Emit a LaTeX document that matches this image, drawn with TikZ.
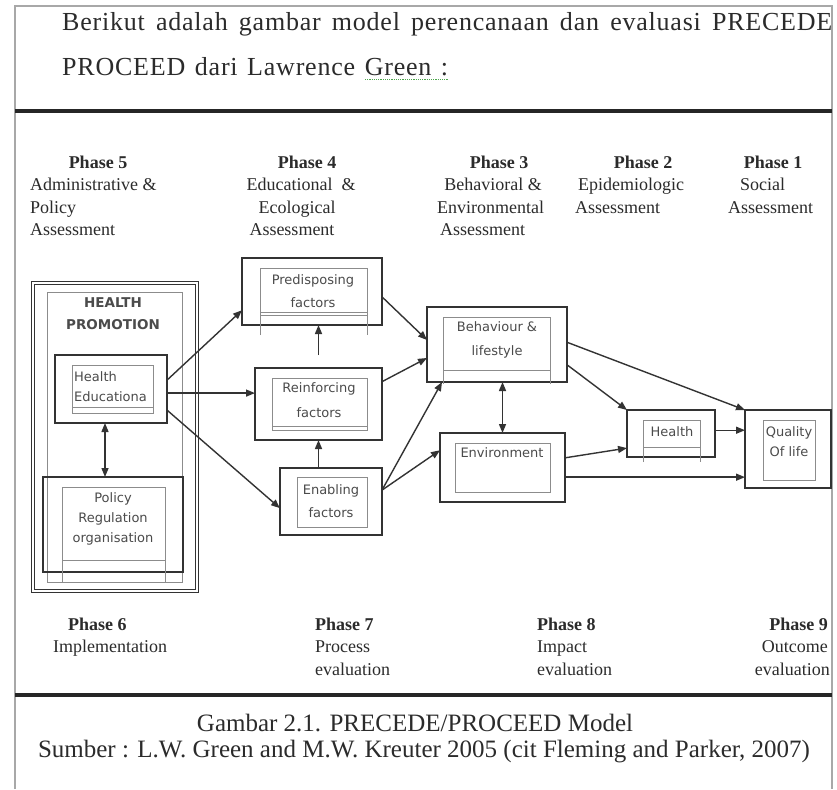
\documentclass[tikz,border=0pt]{standalone}
\usepackage{fontspec}
\setmainfont{Liberation Serif}
\newfontfamily\headfont[LetterSpace=3]{Liberation Serif}
\newfontfamily\boxfont{DejaVu Sans}
\usetikzlibrary{arrows.meta,calc}
\definecolor{ink}{HTML}{2B2B2B}
\definecolor{edge}{HTML}{333333}
\definecolor{faint}{HTML}{8C8C8C}
\definecolor{framec}{HTML}{A8A8A8}
\definecolor{spell}{HTML}{4CA64C}
\begin{document}
\begin{tikzpicture}[x=1pt,y=-1pt,
  outerbox/.style={draw=edge, line width=1.9pt, inner sep=0, outer sep=0, anchor=north west},
  innerline/.style={draw=faint, line width=0.9pt},
  boxtext/.style={font=\boxfont\fontsize{13}{23}\selectfont, text=ink!85, align=center, inner sep=0},
  serif/.style={font=\fontsize{18}{22}\selectfont, text=ink, inner sep=0},
  phase/.style={font=\fontsize{18}{22}\selectfont\bfseries, text=ink, inner sep=0},
  caption/.style={font=\fontsize{25}{28}\selectfont, text=ink, inner sep=0},
  head/.style={font=\headfont\fontsize{26}{30}\selectfont, text=ink, inner sep=0, anchor=base west},
  flow/.style={draw=edge, line width=1.4pt, -{Triangle[length=9pt,width=7pt]}},
  both/.style={draw=edge, line width=1.4pt, {Triangle[length=9pt,width=7pt]}-{Triangle[length=9pt,width=7pt]}},
]
\useasboundingbox (0,0) rectangle (837,789);
\fill[white] (0,0) rectangle (837,789);

% page frame and rules
\draw[framec, line width=1.2pt] (15,789) -- (15,6) -- (832,6) -- (832,789);
\draw[black!85, line width=3.5pt] (15,111) -- (832,111);
\draw[black!85, line width=3.5pt] (15,695) -- (832,695);

% introductory sentence
\node[head] (intro1) at (62,31) {\makebox[770pt][s]{Berikut adalah gambar model perencanaan dan evaluasi PRECEDE}};
\node[head] (intro2) at (62,76) {\makebox[386pt][s]{PROCEED dari Lawrence Green :}};
\draw[spell, line width=1pt, dash pattern=on 1.2pt off 1pt] (365,80) -- (448,80);

% assessment phases (top row)
\node[phase, anchor=base] (p5) at (98,168) {Phase 5};
\node[serif, anchor=base west] (p5a) at (30,190) {Administrative \&};
\node[serif, anchor=base west] (p5b) at (30,213) {Policy};
\node[serif, anchor=base west] (p5c) at (30,235) {Assessment};

\node[phase, anchor=base] (p4) at (307,168) {Phase 4};
\node[serif, anchor=base] (p4a) at (301,190) {Educational~~\&};
\node[serif, anchor=base] (p4b) at (297,213) {Ecological};
\node[serif, anchor=base] (p4c) at (292,235) {Assessment};

\node[phase, anchor=base] (p3) at (499,168) {Phase 3};
\node[serif, anchor=base] (p3a) at (493,190) {Behavioral \&};
\node[serif, anchor=base west] (p3b) at (437,213) {Environmental};
\node[serif, anchor=base west] (p3c) at (440,235) {Assessment};

\node[phase, anchor=base] (p2) at (643,168) {Phase 2};
\node[serif, anchor=base west] (p2a) at (578,190) {Epidemiologic};
\node[serif, anchor=base west] (p2b) at (575,213) {Assessment};

\node[phase, anchor=base] (p1) at (773,168) {Phase 1};
\node[serif, anchor=base west] (p1a) at (740,190) {Social};
\node[serif, anchor=base west] (p1b) at (728,213) {Assessment};

% health promotion block
\node[outerbox, draw=edge, line width=1.2pt, double=white, double distance=2pt,
      minimum width=164, minimum height=308] (hp) at (33,283) {};
\draw[innerline] (47,292) rectangle (182,582);
\node[boxtext, font=\boxfont\bfseries\fontsize{13.5}{22}\selectfont] (hptitle) at (113,314) {HEALTH\\PROMOTION};

\node[outerbox, minimum width=112, minimum height=68] (hed) at (55,355) {};
\draw[innerline] (72,365) rectangle (153,413);
\draw[innerline] (72,407) -- (153,407);
\node[boxtext, align=left, anchor=west, font=\boxfont\fontsize{13}{20}\selectfont] (hedt) at (74,387) {Health\\Educationa};

\node[outerbox, minimum width=140, minimum height=95] (pol) at (43,477) {};
\draw[innerline] (62,487) rectangle (165,582);
\draw[innerline] (62,560) -- (165,560);
\node[boxtext, font=\boxfont\fontsize{13}{20}\selectfont] (polt) at (113,519) {Policy\\Regulation\\organisation};

% educational and ecological factors
\node[outerbox, minimum width=140, minimum height=67] (pre) at (242,258) {};
\draw[innerline] (260,335) -- (260,268) -- (367,268) -- (367,335);
\draw[innerline] (260,312) -- (367,312) (260,315.5) -- (367,315.5);
\node[boxtext] (pret) at (313,291.5) {Predisposing\\factors};

\node[outerbox, minimum width=127, minimum height=72] (rei) at (255,368) {};
\draw[innerline] (272,378) rectangle (367,430);
\draw[innerline] (272,426) -- (367,426);
\node[boxtext, font=\boxfont\fontsize{13}{25}\selectfont] (reit) at (319,400.5) {Reinforcing\\factors};

\node[outerbox, minimum width=102, minimum height=67] (ena) at (280,468) {};
\draw[innerline] (297,477) rectangle (367,527);
\node[boxtext] (enat) at (331,501.5) {Enabling\\factors};

% behavioural and environmental factors
\node[outerbox, minimum width=140, minimum height=75] (beh) at (427,307) {};
\draw[innerline] (443,384) -- (443,317) -- (550,317) -- (550,384);
\draw[innerline] (443,370) -- (550,370);
\node[boxtext, font=\boxfont\fontsize{13}{24}\selectfont] (beht) at (497,340) {Behaviour \&\\lifestyle};

\node[outerbox, minimum width=125, minimum height=69] (env) at (440,433) {};
\draw[innerline] (455,443) rectangle (550,492);
\node[boxtext] (envt) at (502,453) {Environment};

% outcomes
\node[outerbox, minimum width=88, minimum height=47] (hlth) at (627,410) {};
\draw[innerline] (643,462) -- (643,420) -- (700,420) -- (700,462);
\draw[innerline] (643,447) -- (700,447);
\node[boxtext] (hltht) at (672,432) {Health};

\node[outerbox, minimum width=86, minimum height=78] (qol) at (745,410) {};
\draw[innerline] (763,420) rectangle (815,480);
\node[boxtext, font=\boxfont\fontsize{13}{20}\selectfont] (qolt) at (789,442) {Quality\\Of life};

% connectors
\draw[flow] ($(hed.north east)!0.37!(hed.south east)$) -- ($(pre.north west)!0.78!(pre.south west)$);
\draw[flow] ($(hed.north east)!0.56!(hed.south east)$) coordinate (hedmid) -- (hedmid -| rei.west);
\draw[flow] ($(hed.north east)!0.81!(hed.south east)$) -- ($(ena.north west)!0.6!(ena.south west)$);
\draw[both] ($(hed.south)+(-6,0)$) coordinate (hedbot) -- (hedbot |- pol.north);

\draw[flow] ($(rei.north)+(0,-13)$) -- (rei.north |- pre.south);
\draw[flow] (rei.south |- ena.north) -- (rei.south);

\draw[flow] ($(pre.north east)!0.58!(pre.south east)$) -- ($(beh.north west)!0.44!(beh.south west)$);
\draw[flow] ($(rei.north east)!0.19!(rei.south east)$) -- ($(beh.north west)!0.68!(beh.south west)$);
\draw[flow] ($(ena.north east)!0.33!(ena.south east)$) coordinate (enaout) -- ($(beh.south west)+(15,0)$);
\draw[flow] (enaout) -- ($(env.north west)!0.25!(env.south west)$);

\draw[both] (env.north |- beh.south) -- (env.north);

\draw[flow] ($(beh.north east)!0.77!(beh.south east)$) -- (hlth.north west);
\draw[flow] ($(beh.north east)!0.47!(beh.south east)$) -- (qol.north west);
\draw[flow] ($(hlth.north east)!0.43!(hlth.south east)$) coordinate (hlthout) -- (hlthout -| qol.west);
\draw[flow] ($(env.north east)!0.36!(env.south east)$) -- ($(hlth.north west)!0.81!(hlth.south west)$);
\draw[flow] ($(env.north east)!0.64!(env.south east)$) coordinate (envout) -- (envout -| qol.west);

% evaluation phases (bottom row)
\node[phase, anchor=base west] (p6) at (68,630) {Phase 6};
\node[serif, anchor=base west] (p6a) at (53,652) {Implementation};

\node[phase, anchor=base west] (p7) at (315,630) {Phase 7};
\node[serif, anchor=base west] (p7a) at (315,652) {Process};
\node[serif, anchor=base west] (p7b) at (315,675) {evaluation};

\node[phase, anchor=base west] (p8) at (537,630) {Phase 8};
\node[serif, anchor=base west] (p8a) at (537,652) {Impact};
\node[serif, anchor=base west] (p8b) at (537,675) {evaluation};

\node[phase, anchor=base east] (p9) at (828,630) {Phase 9};
\node[serif, anchor=base east] (p9a) at (828,652) {Outcome};
\node[serif, anchor=base east] (p9b) at (830,675) {evaluation};

% caption
\node[caption, anchor=base] (cap1) at (415,731) {Gambar 2.1. PRECEDE/PROCEED Model};
\node[caption, anchor=base] (cap2) at (424,757) {Sumber : L.W. Green and M.W. Kreuter 2005 (cit Fleming and Parker, 2007)};
\end{tikzpicture}
\end{document}
